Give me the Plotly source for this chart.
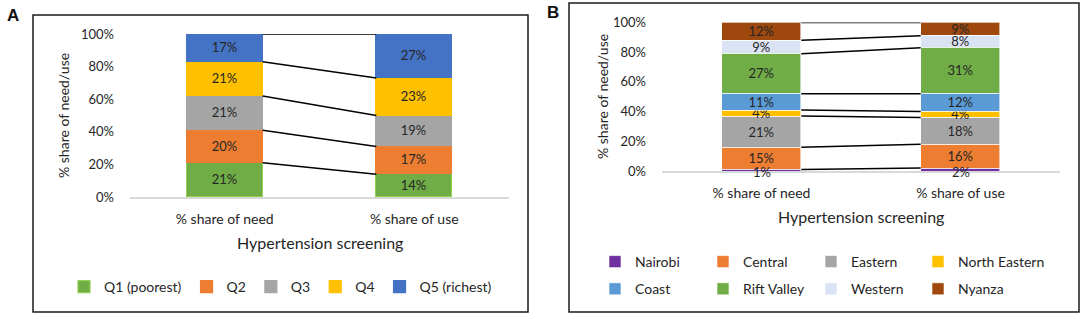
import plotly.graph_objects as go

# ---------------- data ----------------
categories = ["% share of need", "% share of use"]

quintiles = ["Q1 (poorest)", "Q2", "Q3", "Q4", "Q5 (richest)"]
q_need = [21, 20, 21, 21, 17]
q_use = [14, 17, 19, 23, 27]
q_colors = ["#70AD47", "#ED7D31", "#A5A5A5", "#FFC000", "#4472C4"]
q_lines = ["#92D050", "#ED7D31", "#A5A5A5", "#FFC000", "#4472C4"]

regions = ["Nairobi", "Central", "Eastern", "North Eastern",
           "Coast", "Rift Valley", "Western", "Nyanza"]
r_need = [1, 15, 21, 4, 11, 27, 9, 12]
r_use = [2, 16, 18, 4, 12, 31, 8, 9]
r_colors = ["#7030A0", "#ED7D31", "#A5A5A5", "#FFC000",
            "#5B9BD5", "#70AD47", "#DAE3F3", "#9E480E"]

y_ticks = [0, 20, 40, 60, 80, 100]
y_ticktext = [f"{v}%" for v in y_ticks]

FONT = "Lato"
TXT = "#262626"
W, H = 1084, 319
BAR_W = 0.4
xpos = [0, 1]
SMALL = 3  # segments below this get their label as an annotation

fig = go.Figure()


def cumsum(vals):
    out, s = [], 0
    for v in vals:
        s += v
        out.append(s)
    return out


def add_panel(names, need, use, colors, lines, xa, ya, legend_of):
    cn, cu = cumsum(need), cumsum(use)
    for i, name in enumerate(names):
        vals = [need[i], use[i]]
        fig.add_trace(go.Bar(
            x=xpos, y=vals, name=name, legendgroup=name,
            marker=dict(color=colors[i],
                        line=dict(color=lines[i] if lines else "white",
                                  width=1.2 if lines else 0.6)),
            width=BAR_W,
            text=[f"{v}%" for v in vals],
            textposition=["inside" if v >= SMALL else "none" for v in vals],
            insidetextanchor="middle", textangle=0,
            textfont=dict(family=FONT, size=13, color=TXT),
            xaxis=xa, yaxis=ya, legend=legend_of(i), hoverinfo="skip",
        ))
        for k, (v, top) in enumerate(zip(vals, [cn[i], cu[i]])):
            if v < SMALL:
                fig.add_annotation(
                    x=xpos[k], y=top - v / 2, xref=xa, yref=ya,
                    text=f"{v}%", showarrow=False, yshift=-2,
                    font=dict(family=FONT, size=13, color=TXT))
    for a, b in zip(cn, cu):
        fig.add_trace(go.Scatter(
            x=[xpos[0] + BAR_W / 2, xpos[1] - BAR_W / 2], y=[a, b],
            mode="lines", line=dict(color="black", width=1.5),
            showlegend=False, xaxis=xa, yaxis=ya, hoverinfo="skip",
        ))


# legend for panel B is laid out in 4 columns of 2 rows
b_columns = ["legend2", "legend3", "legend4", "legend5"]
add_panel(quintiles, q_need, q_use, q_colors, q_lines, "x", "y",
          lambda i: "legend")
add_panel(regions, r_need, r_use, r_colors, None, "x2", "y2",
          lambda i: b_columns[i % 4])


def xaxis_cfg(domain, anchor):
    return dict(domain=domain, anchor=anchor, range=[-0.5, 1.5],
                tickvals=xpos, ticktext=categories, showgrid=False,
                zeroline=False, showline=True, linecolor="#D9D9D9",
                linewidth=2, ticks="", ticklabelstandoff=8, automargin=False,
                tickfont=dict(family=FONT, size=14, color=TXT))


def yaxis_cfg(domain, anchor):
    return dict(domain=domain, anchor=anchor, range=[0, 100],
                tickvals=y_ticks, ticktext=y_ticktext, showgrid=False,
                zeroline=False, showline=False, ticks="", automargin=False,
                ticklabelstandoff=15,
                tickfont=dict(family=FONT, size=13, color=TXT))


xA = [130 / W, 509 / W]
yA = [122 / H, 285 / H]
xB = [662 / W, 1060 / W]
yB = [148 / H, 296.5 / H]

leg_common = dict(font=dict(family=FONT, size=14, color=TXT),
                  bgcolor="rgba(0,0,0,0)", itemclick=False,
                  itemdoubleclick=False)

legends = dict(
    legend=dict(orientation="h", x=280.5 / W, xanchor="center",
                y=1 - 287 / H, yanchor="middle", tracegroupgap=0,
                traceorder="normal", **leg_common),
)
for j, (lg, marker_x) in enumerate(zip(b_columns, [615, 723, 831, 938])):
    legends[lg] = dict(orientation="v", x=(marker_x - 20) / W, xanchor="left",
                       y=1 - 246 / H, yanchor="top", tracegroupgap=6,
                       traceorder="grouped", **leg_common)

fig.update_layout(
    width=W, height=H, margin=dict(l=0, r=0, t=0, b=0),
    paper_bgcolor="white", plot_bgcolor="white",
    barmode="stack", bargap=0,
    font=dict(family=FONT, color=TXT),
    uniformtext=dict(minsize=13, mode="show"),
    xaxis=xaxis_cfg(xA, "y"), yaxis=yaxis_cfg(yA, "x"),
    xaxis2=xaxis_cfg(xB, "y2"), yaxis2=yaxis_cfg(yB, "x2"),
    showlegend=True,
    **legends,
)

# panel borders
fig.add_shape(type="rect", xref="paper", yref="paper",
              x0=33 / W, x1=528 / W, y0=1 - 312 / H, y1=1 - 15 / H,
              line=dict(color="#1a1a1a", width=1.5), fillcolor="rgba(0,0,0,0)")
fig.add_shape(type="rect", xref="paper", yref="paper",
              x0=569 / W, x1=1079 / W, y0=1 - 312 / H, y1=1 - 3 / H,
              line=dict(color="#1a1a1a", width=1.5), fillcolor="rgba(0,0,0,0)")

# panel letters
for txt, xx, yy in [("<b>A</b>", 13, 15), ("<b>B</b>", 553, 13)]:
    fig.add_annotation(text=txt, x=xx / W, y=1 - yy / H, xref="paper",
                       yref="paper", showarrow=False, xanchor="center",
                       yanchor="middle",
                       font=dict(family="Liberation Sans", size=17, color="#111"))
# x-axis titles
for xx, yy in [(319.5, 242), (861, 216)]:
    fig.add_annotation(text="Hypertension screening", x=xx / W, y=1 - yy / H,
                       xref="paper", yref="paper", showarrow=False,
                       xanchor="center", yanchor="middle",
                       font=dict(family=FONT, size=16, color=TXT))
# y-axis titles
for xx, yy in [(63, 116), (603, 97)]:
    fig.add_annotation(text="% share of need/use", x=xx / W, y=1 - yy / H,
                       xref="paper", yref="paper", showarrow=False,
                       textangle=-90, xanchor="center", yanchor="middle",
                       font=dict(family=FONT, size=14, color=TXT))

fig.write_html(
    "out.html",
    config={"displayModeBar": False},
    post_script=(
        "document.documentElement.style.margin='0';"
        "document.documentElement.style.overflow='hidden';"
        "document.body.style.margin='0';"
        "document.body.style.overflow='hidden';"
        "var gd=document.getElementById('{plot_id}');"
        "gd.style.position='fixed';gd.style.top='0px';gd.style.left='0px';"
    ),
)
